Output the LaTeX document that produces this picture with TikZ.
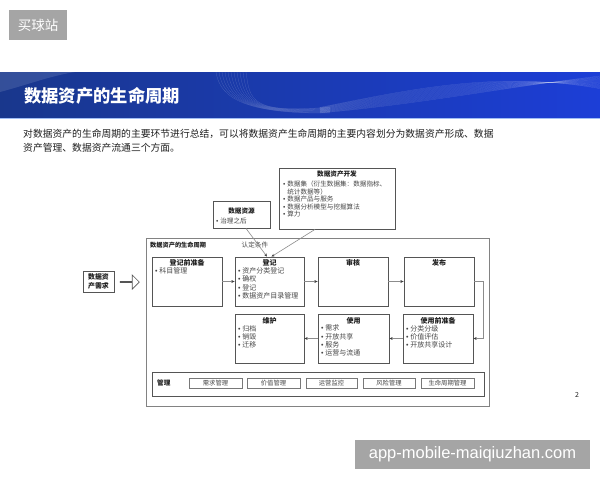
\documentclass[tikz,border=0pt]{standalone}
\usepackage{fontspec}
\setmainfont{Noto Sans CJK SC}
\newfontfamily\latinsans{Liberation Sans}
\newcommand\bul{{\latinsans •}\hspace{1.8pt}}
\usetikzlibrary{arrows.meta,shapes.arrows}
\definecolor{barL}{RGB}{25,55,140}
\definecolor{barM}{RGB}{8,24,98}
\definecolor{barR}{RGB}{28,62,215}
\definecolor{boxgray}{RGB}{85,85,85}
\definecolor{outergray}{RGB}{130,130,130}
\definecolor{conngray}{RGB}{140,140,140}
\definecolor{subgray}{RGB}{120,120,120}
\definecolor{txtdark}{RGB}{30,30,30}
\definecolor{txtgray}{RGB}{70,70,70}
\definecolor{wmgray}{RGB}{165,165,165}
\begin{document}
\begin{tikzpicture}[x=1pt,y=-1pt,
  box/.style={draw=boxgray, line width=0.8pt, fill=white, inner sep=0},
  ttl/.style={font=\bfseries\fontsize{7}{8}\selectfont, text=txtdark, inner sep=0},
  items/.style={font=\fontsize{7}{8.3}\selectfont, text=txtgray, align=left, inner sep=0, anchor=west},
  conn/.style={draw=conngray, line width=0.6pt, -{Stealth[length=3.2pt,width=2.8pt,color=black!75]}},
  subbox/.style={draw=subgray, line width=0.5pt, inner sep=0, font=\fontsize{6.3}{7}\selectfont, text=txtgray, minimum height=10}
]
\useasboundingbox (0,0) rectangle (600,480);
\fill[white] (0,0) rectangle (600,480);

% watermark top
\node[fill=wmgray, minimum width=58, minimum height=30, inner sep=0, text=white, font=\fontsize{13.5}{14}\selectfont] (wm1) at (38,25) {买球站};

% title bar
\shade[left color=barL, middle color=barM, right color=barR] (0,72) rectangle (600,118);
\fill[white, opacity=0.12] (0,72) -- (0,92) .. controls (30,84) and (50,76) .. (75,72) -- cycle;
\begin{scope}[draw=white, line width=0.25pt, opacity=0.2]
  \foreach \i in {0,...,10} \draw (216+\i*3,72) .. controls (220+\i*3,100) and (250,114) .. (330,113-\i*0.6);
  \foreach \i in {0,...,14} \draw (320,113-\i*0.4) .. controls (420,104-\i*1.2) and (500,88-\i*1.2) .. (600,76+\i*0.9);
\end{scope}
\draw[color={rgb,255:red,160;green,190;blue,245}, line width=1pt] (0,118.5) -- (600,118.5);
\node[anchor=west, inner sep=0, text=white, font=\bfseries\fontsize{17.3}{18}\selectfont] (title) at (24,96) {数据资产的生命周期};

% paragraph
\node[anchor=west, inner sep=0, text=txtdark, font=\fontsize{9.8}{11}\selectfont] (p1) at (23,134) {对数据资产的生命周期的主要环节进行总结，可以将数据资产生命周期的主要内容划分为数据资产形成、数据};
\node[anchor=west, inner sep=0, text=txtdark, font=\fontsize{9.8}{11}\selectfont] (p2) at (23,148) {资产管理、数据资产流通三个方面。};

% top boxes
\node[box, minimum width=116, minimum height=61] (dev) at (337,198.5) {};
\node[ttl, font=\bfseries\fontsize{6.6}{7}\selectfont] (devt) at (337,174) {数据资产开发};
\node[items, font=\fontsize{6.6}{7.6}\selectfont] (devi) at (283,199.2) {\bul 数据集（衍生数据集：数据指标、\\\hphantom{\bul}统计数据等）\\\bul 数据产品与服务\\\bul 数据分析模型与挖掘算法\\\bul 算力};

\node[box, minimum width=57, minimum height=27] (res) at (241.5,214.5) {};
\node[ttl, font=\bfseries\fontsize{6.6}{7}\selectfont] (rest) at (241.5,211.5) {数据资源};
\node[items, font=\fontsize{6.6}{7.6}\selectfont] (resi) at (216,221) {\bul 治理之后};

% outer lifecycle box
\node[draw=outergray, line width=0.9pt, minimum width=343, minimum height=168, inner sep=0] (outer) at (317.5,322) {};
\node[anchor=west, inner sep=0, text=txtdark, font=\bfseries\fontsize{6.2}{7}\selectfont] (outert) at (150,245) {数据资产的生命周期};
\node[anchor=west, inner sep=0, text=txtgray, font=\fontsize{6.6}{7}\selectfont] (cond) at (241.5,244.5) {认定条件};

% demand
\node[box, minimum width=31, minimum height=21, align=center, font=\bfseries\fontsize{6.9}{8.6}\selectfont, text=txtdark] (demand) at (98.5,281.5) {数据资\\产需求};
\node[single arrow, draw=boxgray, line width=0.7pt, fill=white, inner sep=0, minimum height=19, minimum width=14, single arrow head extend=4.5, single arrow tip angle=90] (harrow) at (129.5,282) {};

% row 1
\node[box, minimum width=70, minimum height=49] (prep) at (187,281.5) {};
\node[ttl] (prept) at (187,263) {登记前准备};
\node[items] (prepi) at (155,271) {\bul 科目管理};

\node[box, minimum width=69, minimum height=49] (reg) at (269.5,281.5) {};
\node[ttl] (regt) at (269.5,262.5) {登记};
\node[items] (regi) at (238,283.5) {\bul 资产分类登记\\\bul 确权\\\bul 登记\\\bul 数据资产目录管理};

\node[box, minimum width=70, minimum height=49] (audit) at (353,281.5) {};
\node[ttl] (auditt) at (353,262.5) {审核};

\node[box, minimum width=70, minimum height=49] (pub) at (439,281.5) {};
\node[ttl] (pubt) at (439,262.5) {发布};

% row 2
\node[box, minimum width=69, minimum height=49] (maint) at (269.5,338.5) {};
\node[ttl] (maintt) at (269.5,321) {维护};
\node[items] (mainti) at (238,336.7) {\bul 归档\\\bul 销毁\\\bul 迁移};

\node[box, minimum width=71, minimum height=49] (use) at (353.5,338.5) {};
\node[ttl] (uset) at (353.5,321) {使用};
\node[items] (usei) at (321,340.8) {\bul 需求\\\bul 开放共享\\\bul 服务\\\bul 运营与流通};

\node[box, minimum width=70, minimum height=49] (useprep) at (438,338.5) {};
\node[ttl] (useprept) at (438,321) {使用前准备};
\node[items] (useprepi) at (406,336.7) {\bul 分类分级\\\bul 价值评估\\\bul 开放共享设计};

% connectors
\draw[conn] (prep.east) -- (reg.west);
\draw[conn] (reg.east) -- (audit.west);
\draw[conn] (audit.east) -- (pub.west);
\draw[conn] (pub.east) -- ++(9,0) |- (useprep.east);
\draw[conn] (useprep.west) -- (use.east);
\draw[conn] (use.west) -- (maint.east);
\draw[conn] ([xshift=4.5pt]res.south) -- ([xshift=-2.5pt]reg.north);
\draw[conn] ([xshift=-22pt]dev.south) -- ([xshift=2pt]reg.north);

% management
\node[box, line width=0.7pt, minimum width=332, minimum height=24] (mgmt) at (318,384) {};
\node[anchor=west, inner sep=0, text=txtdark, font=\bfseries\fontsize{6.6}{7}\selectfont] (mgmtt) at (157,383) {管理};
\node[subbox, minimum width=53] (m1) at (215.5,383) {需求管理};
\node[subbox, minimum width=53] (m2) at (273.5,383) {价值管理};
\node[subbox, minimum width=51] (m3) at (331.5,383) {运营监控};
\node[subbox, minimum width=52] (m4) at (389,383) {风险管理};
\node[subbox, minimum width=53] (m5) at (447.5,383) {生命周期管理};

% page number
\node[inner sep=0, text=txtdark, font=\fontsize{7}{8}\selectfont] (pnum) at (577,395) {2};

% watermark bottom
\node[fill=wmgray, minimum width=235, minimum height=29, inner sep=0, text=white, font=\latinsans\fontsize{16.5}{18}\selectfont] (wm2) at (472.5,454.5) {app-mobile-maiqiuzhan.com};
\end{tikzpicture}
\end{document}
